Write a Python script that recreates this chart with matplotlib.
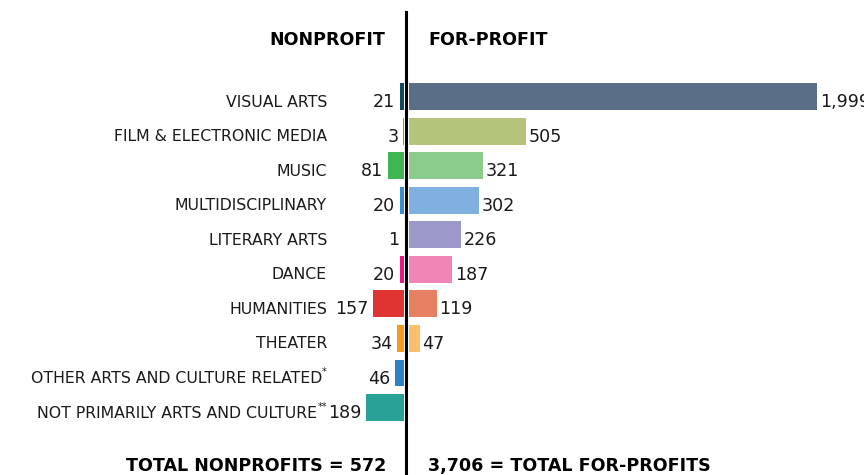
import matplotlib
matplotlib.use("Agg")
import matplotlib.pyplot as plt
from matplotlib.transforms import blended_transform_factory

plt.rcParams["font.family"] = ["DejaVu Sans"]

# Data
categories = [
    "VISUAL ARTS",
    "FILM & ELECTRONIC MEDIA",
    "MUSIC",
    "MULTIDISCIPLINARY",
    "LITERARY ARTS",
    "DANCE",
    "HUMANITIES",
    "THEATER",
    "OTHER ARTS AND CULTURE RELATED",
    "NOT PRIMARILY ARTS AND CULTURE",
]
footnote_marks = ["", "", "", "", "", "", "", "", "*", "**"]
nonprofit = [21, 3, 81, 20, 1, 20, 157, 34, 46, 189]
forprofit = [1999, 505, 321, 302, 226, 187, 119, 47, None, None]
nonprofit_colors = ["#0f4a5e", "#8a9a40", "#40b553", "#3a8ed4", "#6b66a8",
                    "#e8197f", "#df3431", "#f59c1c", "#2b82c5", "#2aa197"]
forprofit_colors = ["#5b6e87", "#b4c47a", "#8bcb8b", "#80b0e0", "#9b99c9",
                    "#f186b6", "#e77f63", "#fcbf6c", None, None]
total_nonprofit = "572"
total_forprofit = "3,706"
BAR_CAP = 1760  # longest bar is truncated in the original layout

# Layout (pixels)
W, H = 864, 475
ROW0_PX = 96.5
ROW_STEP = 34.56
LEFT_END = 404
RIGHT_START = 409
LEFT_SCALE = 0.2    # px per org
RIGHT_SCALE = 0.232
TXT_DY = 0.16
CAT_SIZE = 11.3
VAL_SIZE = 12.6
HEAD_SIZE = 12.6


def py_to_row(py):
    return (py - ROW0_PX) / ROW_STEP


ylim = (py_to_row(H), py_to_row(0))

fig = plt.figure(figsize=(W / 100, H / 100), dpi=100)
axl = fig.add_axes([0, 0, LEFT_END / W, 1])
axr = fig.add_axes([RIGHT_START / W, 0, (W - RIGHT_START) / W, 1])
axl.set_xlim(LEFT_END / LEFT_SCALE, 0)
axr.set_xlim(0, (W - RIGHT_START) / RIGHT_SCALE)
for a in (axl, axr):
    a.set_ylim(*ylim)
    a.axis("off")

rows = range(len(categories))
loff = 4.5 / LEFT_SCALE
roff = 2.5 / RIGHT_SCALE
cat_tr = blended_transform_factory(axl.transAxes, axl.transData)
cat_x = 327 / LEFT_END

for i in rows:
    v = nonprofit[i]
    axl.barh(i, v, height=0.78, color=nonprofit_colors[i])
    axl.text(v + loff, i + TXT_DY, str(v), ha="right", va="center",
             fontsize=VAL_SIZE, color="#1a1a1a")
    mark = footnote_marks[i]
    if mark:
        axl.text(cat_x, i - 0.02, mark, transform=cat_tr, ha="right",
                 va="center", fontsize=7, color="#1a1a1a")
        axl.annotate(categories[i], xy=(cat_x, i + TXT_DY), xycoords=cat_tr,
                     xytext=(-3.2 * len(mark) - 0.5, 0), textcoords="offset points",
                     ha="right", va="center", fontsize=CAT_SIZE, color="#1a1a1a")
    else:
        axl.text(cat_x, i + TXT_DY, categories[i], transform=cat_tr, ha="right",
                 va="center", fontsize=CAT_SIZE, color="#1a1a1a")
    fv = forprofit[i]
    if fv is not None:
        shown = min(fv, BAR_CAP)
        axr.barh(i, shown, height=0.78, color=forprofit_colors[i])
        axr.text(shown + roff, i + TXT_DY, f"{fv:,}", ha="left",
                 va="center", fontsize=VAL_SIZE, color="#1a1a1a")

# divider line and headings in figure pixels
fig.add_artist(plt.Line2D([406 / W, 406 / W], [0, 1 - 12 / H], color="black",
                          lw=2.2))


def fx(px):
    return px / W


def fy(py):
    return 1 - py / H


fig.text(fx(385), fy(40), "NONPROFIT", ha="right", va="center",
         fontsize=HEAD_SIZE, fontweight="bold", color="black")
fig.text(fx(428), fy(40), "FOR-PROFIT", ha="left", va="center",
         fontsize=HEAD_SIZE, fontweight="bold", color="black")
fig.text(fx(386), fy(466), f"TOTAL NONPROFITS = {total_nonprofit}",
         ha="right", va="center", fontsize=HEAD_SIZE, fontweight="bold", color="black")
fig.text(fx(428), fy(466), f"{total_forprofit} = TOTAL FOR-PROFITS",
         ha="left", va="center", fontsize=HEAD_SIZE, fontweight="bold", color="black")

fig.savefig("out.png", dpi=100)
